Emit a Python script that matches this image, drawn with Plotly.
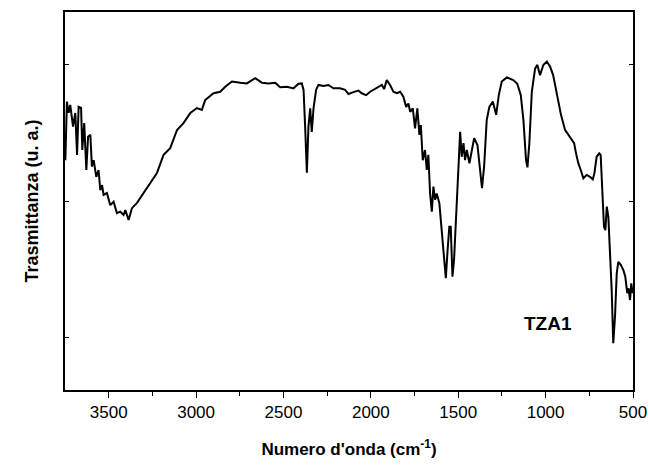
import plotly.graph_objects as go

# Wavenumber (cm^-1) and transmittance (a.u.)
wavenumber = [3748, 3739, 3729, 3720, 3704, 3691, 3681, 3672, 3658, 3651, 3640, 3628, 3618,
              3605, 3596, 3586, 3571, 3558, 3548, 3538, 3529, 3510, 3491, 3472, 3453, 3434,
              3415, 3405, 3386, 3367, 3338, 3300, 3262, 3224, 3186, 3148, 3109, 3072, 3033,
              2995, 2967, 2948, 2900, 2862, 2833, 2795, 2747, 2709, 2662, 2623, 2586, 2547,
              2519, 2480, 2443, 2414, 2395, 2385, 2376, 2366, 2357, 2347, 2338, 2328, 2313,
              2300, 2271, 2243, 2214, 2176, 2147, 2128, 2100, 2071, 2052, 2027, 2004, 1985,
              1957, 1937, 1924, 1909, 1890, 1871, 1851, 1832, 1814, 1798, 1785, 1775, 1760,
              1747, 1734, 1722, 1714, 1703, 1690, 1680, 1671, 1661, 1651, 1642, 1632, 1623,
              1608, 1594, 1581, 1571, 1562, 1551, 1543, 1533, 1524, 1508, 1499, 1489, 1480,
              1470, 1461, 1451, 1436, 1423, 1409, 1390, 1375, 1364, 1352, 1337, 1322, 1302,
              1283, 1268, 1251, 1222, 1185, 1162, 1142, 1127, 1112, 1104, 1093, 1079, 1060,
              1047, 1032, 1013, 993, 974, 957, 935, 912, 889, 870, 851, 837, 826, 813, 799,
              784, 765, 746, 730, 721, 708, 693, 685, 677, 666, 658, 650, 641, 631, 622, 613,
              603, 593, 584, 570, 555, 544, 533, 525, 517, 510, 502]
transmittance = [60.8, 76.3, 73.3, 75.4, 69.7, 73.3, 62.2, 74.9, 74.6, 63.5, 70.6, 58.2, 67.0,
                 67.5, 59.1, 60.8, 56.4, 58.2, 52.9, 54.2, 51.6, 52.1, 48.9, 49.8, 46.8, 47.2,
                 46.3, 47.6, 45.0, 48.1, 49.5, 52.1, 54.7, 57.4, 62.2, 64.0, 68.8, 70.6, 73.3,
                 74.6, 74.1, 76.7, 78.5, 78.9, 80.2, 81.6, 81.3, 81.1, 82.5, 81.3, 81.1, 81.3,
                 80.1, 80.2, 79.8, 81.0, 81.1, 79.4, 69.7, 57.5, 69.7, 74.5, 68.3, 74.5, 79.4,
                 80.7, 80.4, 80.7, 79.8, 79.8, 79.4, 78.3, 78.8, 79.2, 78.5, 78.0, 78.9, 79.4,
                 80.2, 80.7, 79.6, 82.0, 80.7, 78.9, 78.5, 78.9, 77.6, 74.9, 75.8, 73.6, 74.5,
                 69.2, 74.5, 67.5, 70.1, 60.8, 63.5, 58.2, 62.2, 52.0, 47.2, 53.8, 50.3, 52.0,
                 49.4, 42.3, 34.4, 29.6, 36.2, 43.2, 43.2, 30.0, 34.4, 52.0, 60.0, 68.3, 61.7,
                 65.3, 60.8, 63.5, 60.0, 63.5, 66.6, 64.8, 58.2, 53.4, 59.1, 71.4, 74.9, 76.3,
                 72.8, 78.0, 81.6, 82.7, 82.0, 81.0, 78.0, 71.4, 60.8, 58.9, 65.3, 78.9, 85.1,
                 86.0, 83.3, 86.0, 86.9, 85.5, 83.3, 78.0, 72.8, 68.8, 67.5, 66.1, 65.3, 62.6,
                 60.0, 58.2, 56.0, 56.9, 56.4, 55.7, 57.3, 61.7, 62.6, 62.2, 52.9, 43.2, 42.3,
                 48.5, 45.8, 37.0, 26.5, 12.4, 19.4, 30.9, 33.9, 33.1, 31.7, 30.0, 25.6, 26.9,
                 23.8, 28.2, 25.6]

x_tickvals = [3500, 3000, 2500, 2000, 1500, 1000, 500]
x_ticktext = ["3500", "3000", "2500", "2000", "1500", "1000", "500"]
y_tickvals = [14, 50, 86]
sample_label = "TZA1"

font_family = "Liberation Sans, Arial, sans-serif"

fig = go.Figure()
fig.add_trace(go.Scatter(x=wavenumber, y=transmittance, mode="lines",
                         line=dict(color="black", width=2), showlegend=False,
                         hoverinfo="skip"))

fig.add_annotation(x=985, y=17.5, text="<b>%s</b>" % sample_label, showarrow=False,
                   font=dict(family=font_family, size=19, color="black"))

fig.update_layout(
    width=649, height=465,
    margin=dict(l=65, r=16, t=12, b=75, autoexpand=False),
    paper_bgcolor="white", plot_bgcolor="white",
    font=dict(family=font_family, color="black"),
    xaxis=dict(range=[3750, 500], tickvals=x_tickvals, ticktext=x_ticktext,
               automargin=False,
               ticks="outside", ticklen=6, tickwidth=1.2, tickcolor="black",
               minor=dict(tickvals=[3250, 2750, 2250, 1750, 1250, 750], ticks="outside",
                          ticklen=4, tickwidth=1.2, tickcolor="black"),
               showline=True, linecolor="black", linewidth=1.5, mirror=True,
               showgrid=False, zeroline=False,
               tickfont=dict(size=17, family=font_family),
               title=dict(text="<b>Numero d'onda (cm<sup>-1</sup>)</b>",
                          font=dict(size=17, family=font_family), standoff=22)),
    yaxis=dict(range=[0, 100], tickvals=y_tickvals, showticklabels=False,
               automargin=False,
               ticks="inside", ticklen=4, tickwidth=1.2, tickcolor="black",
               showline=True, linecolor="black", linewidth=1.5, mirror="ticks",
               showgrid=False, zeroline=False,
               title=dict(text="<b>Trasmittanza (u. a.)</b>",
                          font=dict(size=18, family=font_family), standoff=20)),
)

fig.write_html("out.html")
